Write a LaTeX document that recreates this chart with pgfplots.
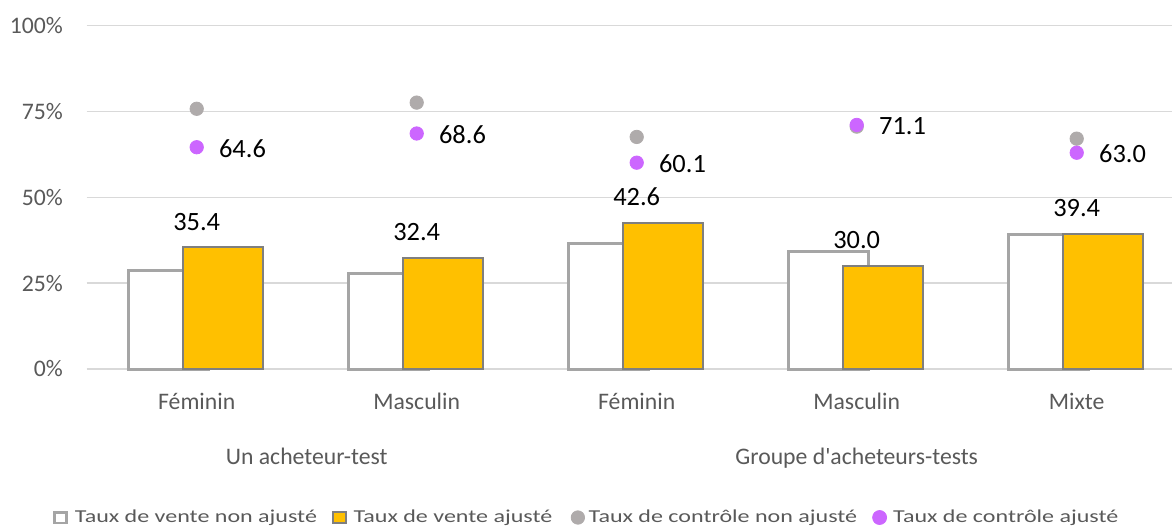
\documentclass[border=0pt]{standalone}
\usepackage{fontspec}
\setmainfont{Carlito}[Ligatures=TeXOff]
\newfontfamily\legfont[FakeStretch=1.32,Ligatures=TeXOff]{Carlito}
\usepackage{pgfplots}
\pgfplotsset{compat=1.18}
\definecolor{gridgray}{HTML}{D9D9D9}
\definecolor{textgray}{HTML}{595959}
\definecolor{unadjgray}{HTML}{A5A5A5}
\definecolor{adjborder}{HTML}{7F7F7F}
\definecolor{gold}{HTML}{FFC000}
\definecolor{dotgray}{HTML}{AFABAB}
\definecolor{purp}{HTML}{CC66FF}
\begin{document}
\begin{tikzpicture}
\begin{axis}[
  at={(43.35pt,78.5pt)}, anchor=south west,
  scale only axis, width=542.65pt, height=171.65pt,
  xmin=-0.5, xmax=4.4332, ymin=0, ymax=100,
  clip=false,
  axis line style={draw=none},
  major tick length=0pt,
  ymajorgrids, grid style={color=gridgray, line width=0.7pt},
  ytick={0,25,50,75,100},
  yticklabel={\pgfmathprintnumber{\tick}\%},
  yticklabel style={inner xsep=0pt, xshift=-11.7pt, font=\fontsize{11.85pt}{13pt}\selectfont, text=textgray},
  xtick={0,1,2,3,4},
  xticklabels={Féminin,Masculin,Féminin,Masculin,Mixte},
  xticklabel style={anchor=base, yshift=-20.15pt, font=\fontsize{11.85pt}{13pt}\selectfont, text=textgray},
  /pgf/number format/assume math mode=true,
  legend columns=4,
  legend cell align=left,
  legend style={at={(axis description cs:-0.0308,-0.4326)}, anchor=west, draw=none, fill=none, inner sep=0pt, outer sep=0pt,
    font=\legfont\fontsize{9.1pt}{10pt}\selectfont, text=textgray,
    nodes={inner sep=0pt, outer sep=0pt},
    /tikz/every even column/.append style={column sep=7.5pt}},
]
\addplot[ybar, bar width=39.85pt, bar shift=-14pt, draw=unadjgray, fill=white, line width=1.5pt,
  legend image code/.code={\draw[draw=unadjgray, line width=1.4pt, fill=white] (0.7pt,-2.7pt) rectangle (6.5pt,2.7pt); \path[draw=none,fill=none] (0,0) rectangle (10.85pt,0.1pt);}]
  coordinates {(0,28.8) (1,27.8) (2,36.5) (3,34.2) (4,39.3)};
\addlegendentry{Taux de vente non ajusté}
\addplot[ybar, bar width=39.85pt, bar shift=13.2pt, draw=adjborder, fill=gold, line width=1pt,
  nodes near coords={\pgfmathprintnumber[fixed,fixed zerofill,precision=1,assume math mode=true]{\pgfplotspointmeta}},
  point meta=y,
  nodes near coords style={anchor=south, yshift=8pt, inner sep=0pt, text=black, font=\fontsize{13.2pt}{14pt}\selectfont},
  legend image code/.code={\draw[draw=adjborder, line width=1pt, fill=gold] (0.5pt,-2.8pt) rectangle (7pt,2.8pt); \path[draw=none,fill=none] (0,0) rectangle (10.8pt,0.1pt);}]
  coordinates {(0,35.4) (1,32.4) (2,42.6) (3,30.0) (4,39.4)};
\addlegendentry{Taux de vente ajusté}
\addplot[only marks, mark=*, mark size=3.35pt, color=dotgray, mark options={draw=none, fill=dotgray},
  legend image code/.code={\fill[dotgray] (5.3pt,0) circle (3.35pt); \path[draw=none,fill=none] (0,0) rectangle (10.7pt,0.1pt);}]
  coordinates {(0,75.8) (1,77.6) (2,67.6) (3,70.6) (4,67.1)};
\addlegendentry{Taux de contrôle non ajusté}
\addplot[only marks, mark=*, mark size=3.35pt, color=purp, mark options={draw=none, fill=purp},
  nodes near coords={\pgfmathprintnumber[fixed,fixed zerofill,precision=1,assume math mode=true]{\pgfplotspointmeta}},
  point meta=y,
  nodes near coords style={anchor=west, xshift=11pt, yshift=-0.6pt, inner sep=0pt, text=black, font=\fontsize{13.2pt}{14pt}\selectfont},
  legend image code/.code={\fill[purp] (3.6pt,0) circle (3.5pt); \path[draw=none,fill=none] (0,0) rectangle (10.4pt,0.1pt);}]
  coordinates {(0,64.6) (1,68.6) (2,60.1) (3,71.1) (4,63.0)};
\addlegendentry{Taux de contrôle ajusté}
\node[anchor=base, yshift=-47.65pt, text=textgray, font=\fontsize{11.85pt}{13pt}\selectfont] at (axis cs:0.5,0) {Un acheteur-test};
\node[anchor=base, yshift=-47.65pt, text=textgray, font=\fontsize{11.85pt}{13pt}\selectfont] at (axis cs:3,0) {Groupe d'acheteurs-tests};
\end{axis}
\pgfresetboundingbox
\path[use as bounding box] (0,0) rectangle (586pt,263pt);
\end{tikzpicture}
\end{document}
